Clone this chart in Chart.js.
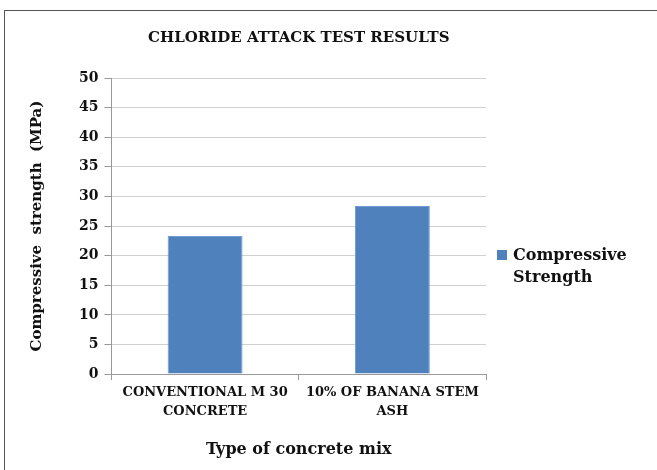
<!DOCTYPE html>
<html>
<head>
<meta charset="utf-8">
<script src="https://cdn.jsdelivr.net/npm/chart.js@4"></script>
<style>
  body { margin: 0; background: #fff; }
  #wrap { position: relative; width: 657px; height: 470px; }
  #frame { position: absolute; left: 4px; top: 10px; right: -5px; bottom: -5px;
           border-top: 1px solid #555; border-left: 1px solid #555; pointer-events: none; }
  #legend { position: absolute; left: 497px; top: 244px; font: bold 16px "DejaVu Serif";
            color: #111; line-height: 22px; }
  #legend .box { display: inline-block; width: 10px; height: 10px; margin-right: 6px; }
  #legend .txt { display: inline-block; vertical-align: top; }
</style>
</head>
<body>
<div id="wrap">
  <canvas id="chart" width="657" height="470"></canvas>
  <div id="frame"></div>
  <div id="legend"></div>
</div>
<script>
const categories = [["CONVENTIONAL M 30", "CONCRETE"], ["10% OF BANANA STEM", "ASH"]];
const seriesName = "Compressive Strength";
const strength = [23.3, 28.4];
const yTicks = [0, 50, 5];

const serif = "DejaVu Serif";
const barColor = "#4F81BD";

const chart = new Chart(document.getElementById("chart"), {
    type: "bar",
    data: {
        labels: categories,
        datasets: [{
            label: seriesName,
            data: strength,
            backgroundColor: barColor,
            borderColor: "#6f9bd0",
            borderWidth: 1,
            barPercentage: 1,
            categoryPercentage: 0.4
        }]
    },
    options: {
        responsive: false,
        animation: false,
        layout: { padding: { top: 29, left: 28, right: 171, bottom: 11 } },
        plugins: {
            legend: { display: false },
            tooltip: { enabled: false },
            title: {
                display: true,
                text: "CHLORIDE ATTACK TEST RESULTS",
                fullSize: false,
                color: "#111",
                font: { family: serif, weight: "bold", size: 15 },
                padding: { top: 0, bottom: 31 }
            }
        },
        scales: {
            x: {
                grid: { display: true, drawOnChartArea: false, offset: true, tickLength: 6, color: "#999" },
                border: { color: "#999" },
                ticks: { color: "#111", font: { family: serif, weight: "bold", size: 13, lineHeight: 1.45 }, padding: 3, maxRotation: 0 },
                title: {
                    display: true,
                    text: "Type of concrete mix",
                    color: "#111",
                    font: { family: serif, weight: "bold", size: 16 },
                    padding: { top: 16, bottom: 0 }
                }
            },
            y: {
                min: yTicks[0],
                max: yTicks[1],
                ticks: { stepSize: yTicks[2], color: "#111", font: { family: serif, weight: "bold", size: 14 }, padding: 6 },
                grid: { color: "#d0d0d0", tickColor: "#999", tickLength: 7 },
                border: { color: "#999" },
                title: {
                    display: true,
                    text: "Compressive  strength  (MPa)",
                    color: "#111",
                    font: { family: serif, weight: "bold", size: 15 },
                    padding: { top: 0, bottom: 27 }
                }
            }
        }
    }
});

// legend drawn as html text, colour taken from the dataset
const ds = chart.data.datasets[0];
document.getElementById("legend").innerHTML =
    '<span class="box" style="background:' + ds.backgroundColor + ';margin-top:5px"></span>' +
    '<span class="txt">Compressive<br>Strength</span>';
</script>
</body>
</html>
